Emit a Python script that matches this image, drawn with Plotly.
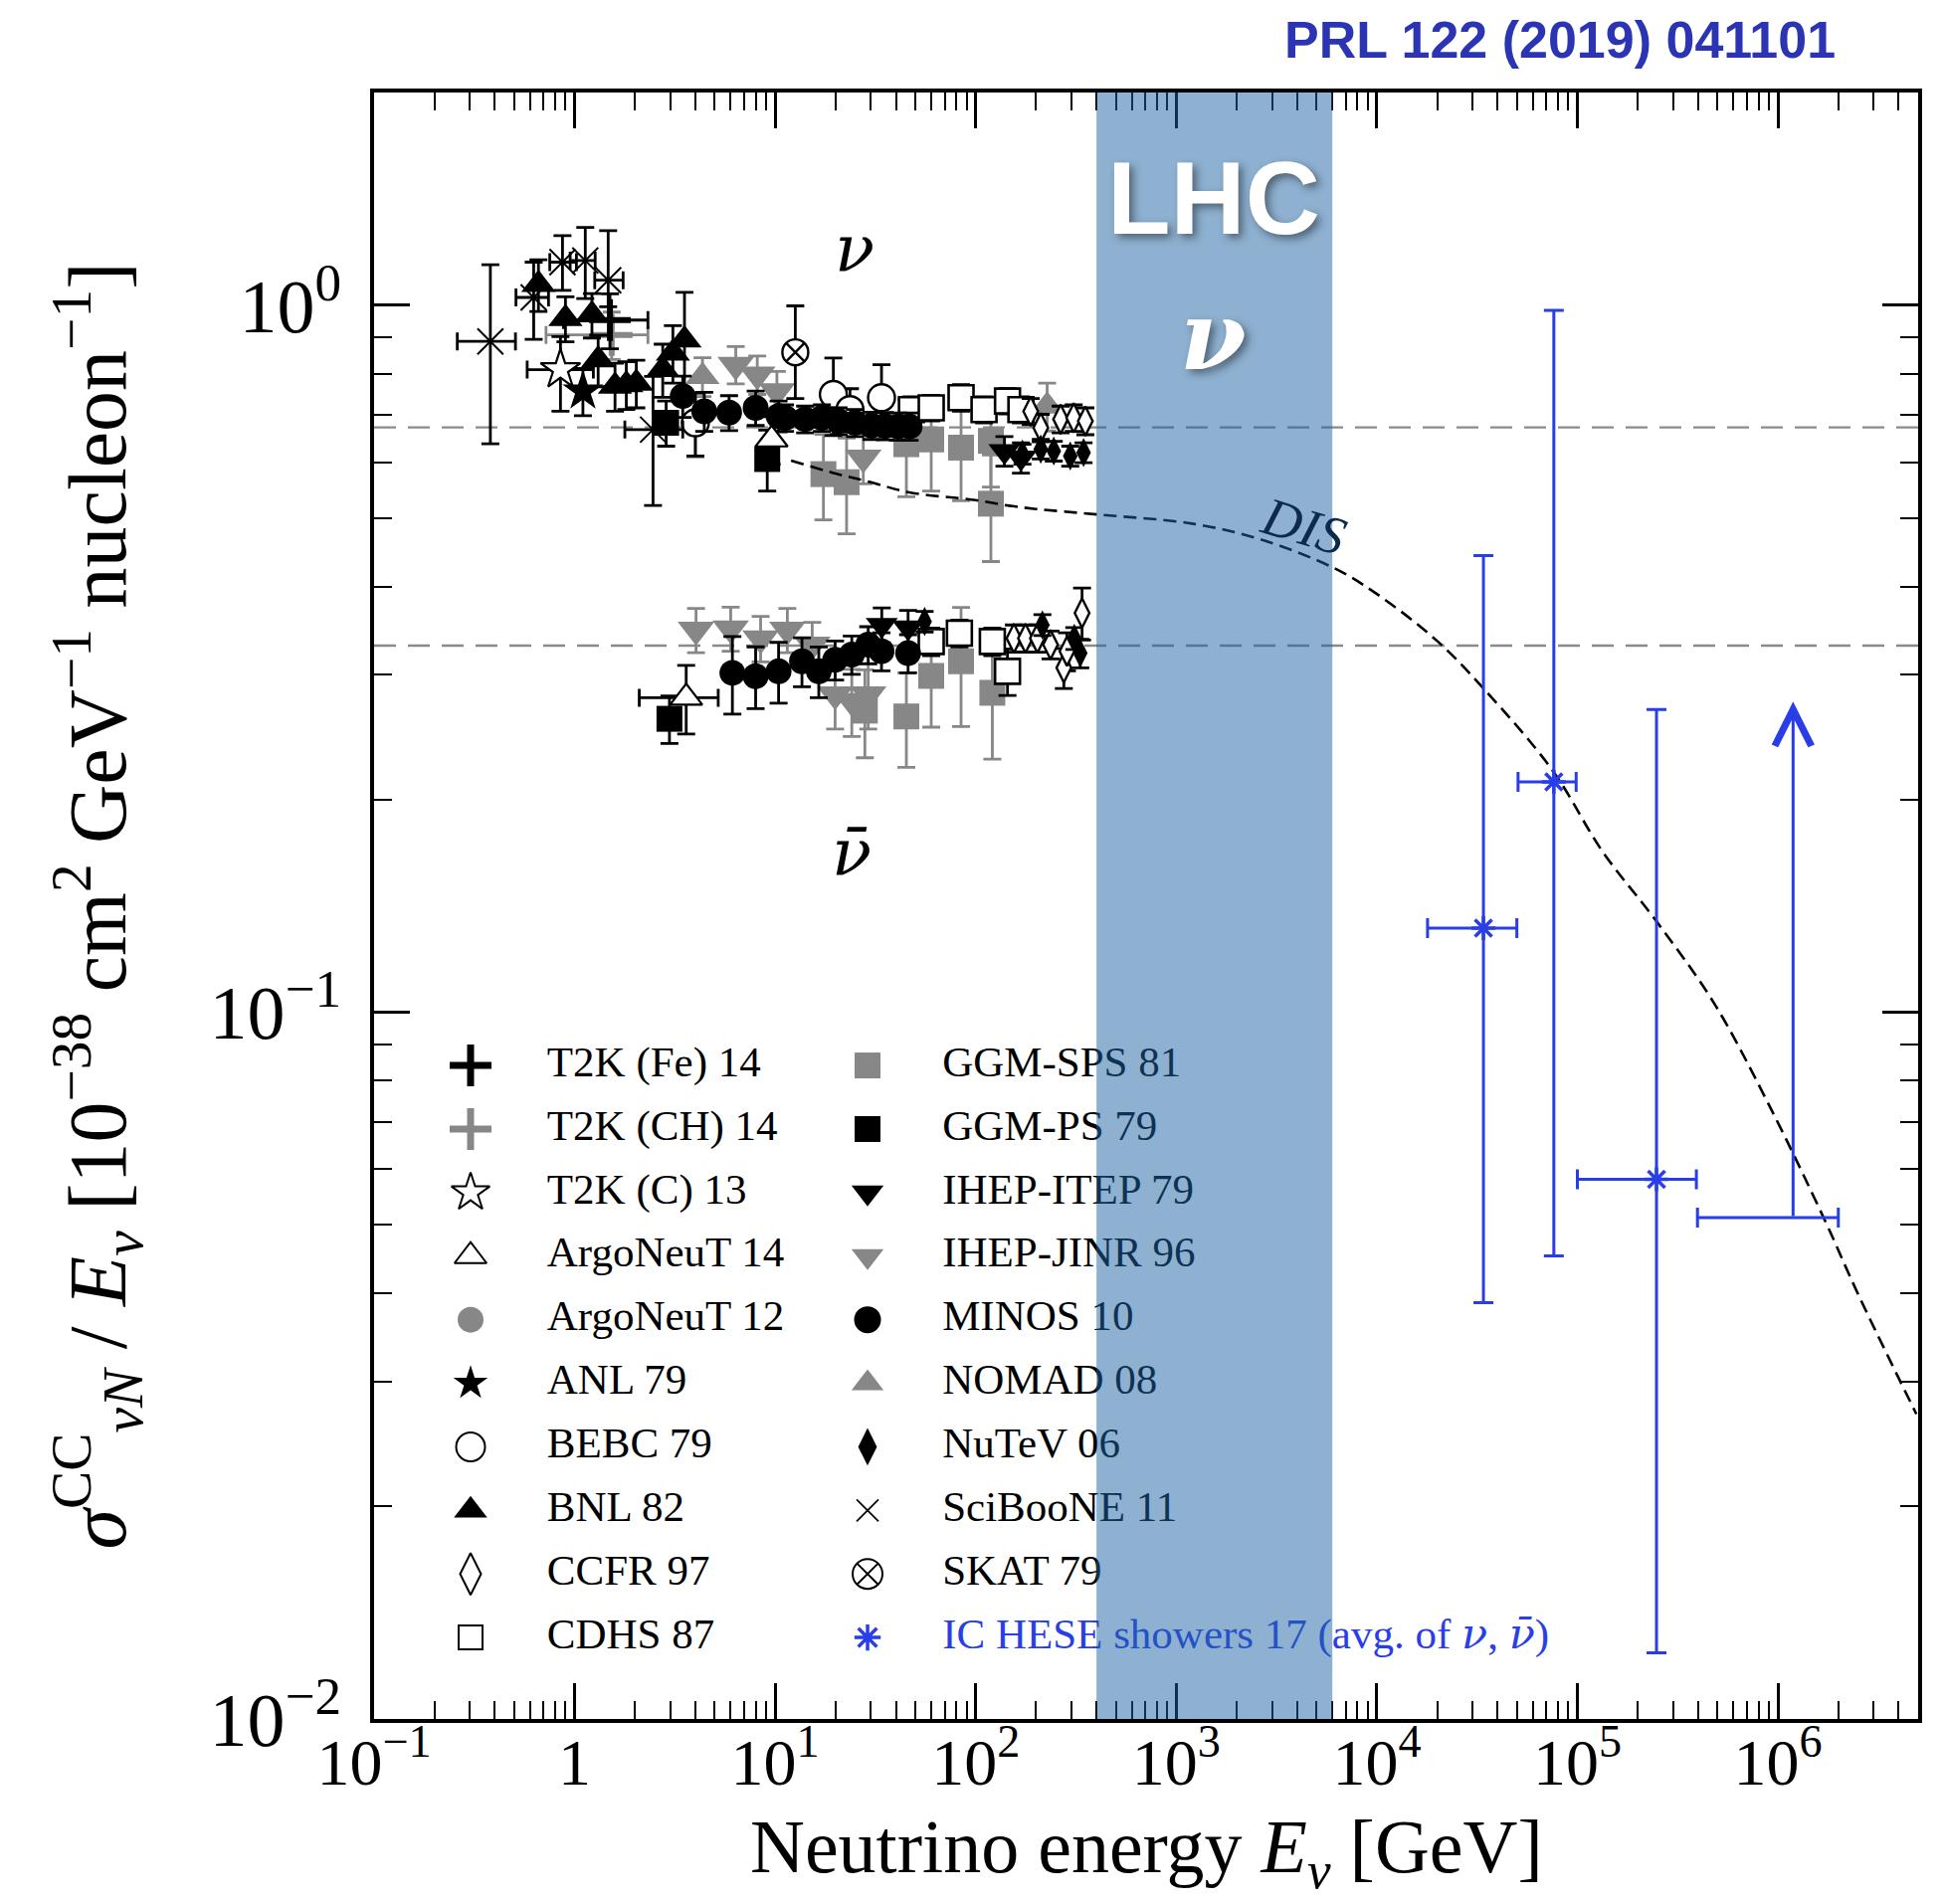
import numpy as np
import plotly.graph_objects as go

# ---------------- DATA ----------------
# Energies in GeV; y = sigma_CC / E in 1e-38 cm^2 GeV^-1 nucleon^-1
X_RANGE_GEV = [0.1, 5.0e6]
Y_RANGE = [0.01, 2.0]
X_TICK_VALS = [0.1, 1, 10, 100, 1e3, 1e4, 1e5, 1e6]
X_TICK_TEXT = ["10<sup>−1</sup>", "1", "10<sup>1</sup>", "10<sup>2</sup>", "10<sup>3</sup>",
               "10<sup>4</sup>", "10<sup>5</sup>", "10<sup>6</sup>"]
Y_TICK_VALS = [0.01, 0.1, 1.0]
Y_TICK_TEXT = ["10<sup>−2</sup>", "10<sup>−1</sup>", "10<sup>0</sup>"]

NU_LEVEL = 0.672
NUBAR_LEVEL = 0.330
LHC_BAND_GEV = [400, 6000]

DIS_E = [12, 20, 30, 46, 100, 144, 200, 400, 1200, 2600, 6100, 9800, 2.0e4, 3.4e4,
         7.5e4, 1.33e5, 2.5e5, 4.8e5, 9.0e5, 1.7e6, 2.5e6, 4.9e6]
DIS_S = [0.603, 0.578, 0.562, 0.544, 0.530, 0.521, 0.515, 0.506, 0.491, 0.467, 0.425, 0.392,
         0.335, 0.287, 0.220, 0.169, 0.134, 0.103, 0.074, 0.051, 0.040, 0.027]

# T2K (Fe) 14
T2K_FE_E = [1.50]
T2K_FE_S = [0.953]
T2K_FE_ERR = [0.085]
T2K_FE_XLO = [0.62]
T2K_FE_XHI = [0.82]
# T2K (CH) 14
T2K_CH_E = [1.53]
T2K_CH_S = [0.908]
T2K_CH_ERR = [0.07]
T2K_CH_XLO = [0.81]
T2K_CH_XHI = [0.79]
# T2K (C) 13
T2K_C_E = [0.85]
T2K_C_S = [0.811]
T2K_C_EU = [0.092]
T2K_C_ED = [0.103]
T2K_C_XLO = [0.27]
T2K_C_XHI = [0.39]
# ArgoNeuT 14 (nu, nubar)
ARGO14_NU_E = [9.6]
ARGO14_NU_S = [0.646]
ARGO14_NU_ERR = [0.05]
ARGO14_NB_E = [3.6]
ARGO14_NB_S = [0.2785]
ARGO14_NB_ERR = [0.031]
ARGO14_NB_XLO = [1.5]
ARGO14_NB_XHI = [1.6]
# ArgoNeuT 12
ARGO12_E = [4.0]
ARGO12_S = [0.68]
ARGO12_ERR = [0.07]
# ANL 79
ANL_E = [1.10]
ANL_S = [0.756]
ANL_ERR = [0.058]
# BEBC 79
BEBC_E = [4.0, 19.5, 23.6, 33.9]
BEBC_S = [0.682, 0.748, 0.712, 0.740]
BEBC_ERR = [0.07, 0.094, 0.05, 0.084]
# BNL 82
BNL_E = [0.66, 0.90, 1.22, 1.31, 1.59, 1.81, 2.03, 2.75, 3.09, 3.53]
BNL_S = [1.07, 0.958, 0.969, 0.837, 0.768, 0.772, 0.776, 0.811, 0.856, 0.893]
BNL_ERR = [0.09, 0.07, 0.07, 0.07, 0.06, 0.06, 0.06, 0.07, 0.08, 0.15]
# CCFR 97
CCFR_E = [188, 211, 265, 308, 352, 155, 177, 203, 236, 275, 285, 339]
CCFR_S = [0.708, 0.671, 0.690, 0.693, 0.686, 0.338, 0.338, 0.338, 0.331, 0.307, 0.324, 0.367]
CCFR_ERR = [0.03, 0.03, 0.03, 0.03, 0.03, 0.015, 0.015, 0.015, 0.015, 0.02, 0.02, 0.031]
# CDHS 87
CDHS_E = [47.8, 60, 84.5, 110, 144, 168, 60, 82.9, 121, 144]
CDHS_S = [0.712, 0.716, 0.740, 0.712, 0.732, 0.712, 0.3345, 0.3437, 0.3345, 0.3035]
CDHS_ERR = [0.03, 0.03, 0.032, 0.03, 0.03, 0.03, 0.015, 0.015, 0.015, 0.023]
# GGM-SPS 81
GGM_SPS_E = [17.4, 22.7, 45.1, 60, 84.5, 119, 119, 28, 45.1, 60, 84.5, 121]
GGM_SPS_S = [0.577, 0.562, 0.636, 0.646, 0.629, 0.524, 0.643, 0.267, 0.262, 0.299, 0.3136, 0.283]
GGM_SPS_ERR = [0.08, 0.087, 0.10, 0.10, 0.10, 0.09, 0.09, 0.038, 0.04, 0.046, 0.06, 0.055]
# GGM-PS 79
GGM_PS_E = [2.86, 9.13, 2.97]
GGM_PS_S = [0.682, 0.606, 0.260]
GGM_PS_ERR = [0.05, 0.06, 0.02]
# IHEP-ITEP 79
IHEP_ITEP_E = [139, 168, 34, 46]
IHEP_ITEP_S = [0.622, 0.609, 0.353, 0.350]
IHEP_ITEP_ERR = [0.03, 0.03, 0.02, 0.02]
# IHEP-JINR 96
IHEP_JINR_E = [6.36, 8.14, 10.2, 27.5, 4.03, 6.0, 8.46, 11.5, 15.3, 19.9, 24.1, 29.1]
IHEP_JINR_S = [0.824, 0.798, 0.756, 0.609, 0.3475, 0.349, 0.338, 0.3475, 0.331, 0.2815, 0.2755, 0.2815]
IHEP_JINR_ERR = [0.05, 0.05, 0.05, 0.05, 0.025, 0.025, 0.025, 0.025, 0.025, 0.03, 0.03, 0.03]
# MINOS 10
MINOS_E = [3.46, 4.43, 5.89, 7.99, 10.4, 11.2, 14.1, 17.1, 20.7, 25.0, 30.2, 35.2, 41.0, 46.8,
           6.12, 7.99, 10.4, 13.6, 16.5, 19.9, 24.1, 29.1, 33.9, 46.0]
MINOS_S = [0.744, 0.708, 0.705, 0.716, 0.697, 0.693, 0.690, 0.693, 0.686, 0.682, 0.676, 0.675, 0.674, 0.674,
           0.302, 0.2987, 0.3035, 0.3136, 0.3035, 0.315, 0.3205, 0.331, 0.324, 0.322]
MINOS_ERR = [0.05, 0.045, 0.04, 0.04, 0.035, 0.03, 0.03, 0.03, 0.03, 0.03, 0.03, 0.03, 0.03, 0.03,
             0.038, 0.03, 0.03, 0.025, 0.025, 0.02, 0.02, 0.02, 0.02, 0.02]
# NOMAD 08
NOMAD_E = [4.34, 227]
NOMAD_S = [0.793, 0.720]
NOMAD_ERR = [0.05, 0.056]
# NuTeV 06
NUTEV_E = [171, 211, 245, 296, 345, 55.6, 215, 310, 332]
NUTEV_S = [0.616, 0.626, 0.622, 0.612, 0.619, 0.357, 0.353, 0.338, 0.322]
NUTEV_ERR = [0.02, 0.02, 0.02, 0.02, 0.02, 0.012, 0.012, 0.012, 0.015]
# SciBooNE 11
SB_E = [0.38, 0.625, 0.87, 1.13, 1.47, 2.46]
SB_S = [0.889, 1.026, 1.151, 1.157, 1.085, 0.667]
SB_EU = [0.252, 0.125, 0.104, 0.132, 0.19, 0.126]
SB_ED = [0.252, 0.131, 0.101, 0.135, 0.09, 0.146]
SB_XLO = [0.12, 0.115, 0.118, 0.18, 0.21, 0.68]
SB_XHI = [0.127, 0.116, 0.151, 0.136, 0.275, 1.0]
# SKAT 79
SKAT_E = [12.6]
SKAT_S = [0.858]
SKAT_EU = [0.14]
SKAT_ED = [0.12]
# IceCube HESE showers 17
IC_E = [3.40e4, 7.63e4, 2.48e5]
IC_S = [0.1315, 0.2117, 0.0580]
IC_EU = [0.311, 0.772, 0.210]
IC_ED = [0.0927, 0.1665, 0.0456]
IC_XLO = [1.61e4, 2.57e4, 1.48e5]
IC_XHI = [1.59e4, 2.23e4, 1.44e5]
IC_LIM_E = [1.19e6]
IC_LIM_S = [0.0512]
IC_LIM_TOP = [0.275]
IC_LIM_XLO = [7.93e5]
IC_LIM_XHI = [8.1e5]

GREEK = "DejaVu Serif, Liberation Serif, serif"
NU_HTML = '<span style="font-family:DejaVu Serif"><i>ν</i></span>'
NUBAR_HTML = '<span style="font-family:DejaVu Serif"><i>ν\u0304</i></span>'
LEGEND_COL1 = ["T2K (Fe) 14", "T2K (CH) 14", "T2K (C) 13", "ArgoNeuT 14", "ArgoNeuT 12",
               "ANL 79", "BEBC 79", "BNL 82", "CCFR 97", "CDHS 87"]
LEGEND_COL2 = ["GGM-SPS 81", "GGM-PS 79", "IHEP-ITEP 79", "IHEP-JINR 96", "MINOS 10",
               "NOMAD 08", "NuTeV 06", "SciBooNE 11", "SKAT 79",
               "IC HESE showers 17 (avg. of " + NU_HTML + ", " + NUBAR_HTML + ")"]
X_TITLE = "Neutrino energy <i>E<sub>ν</sub></i> [GeV]"
Y_TITLE = ("<i>σ</i><sup>CC</sup><sub><i>νN</i></sub> / <i>E<sub>ν</sub></i> "
           "[10<sup>−38</sup> cm<sup>2</sup> GeV<sup>−1</sup> nucleon<sup>−1</sup>]")

# ---------------- STYLE ----------------
BLACK = "#000000"
GRAY = "#878787"
BLUE = "#2a3ee8"
WHITE = "#ffffff"
SERIF = "Liberation Serif, Times New Roman, serif"
SANS = "Liberation Sans, Arial, sans-serif"

# name: (symbol, fill, line colour, line width, data size, legend size, legend line width, error colour)
STYLES = {
    "T2K (Fe) 14": ("cross-thin-open", BLACK, BLACK, 6, 30, 30, 7, BLACK),
    "T2K (CH) 14": ("cross-thin-open", GRAY, GRAY, 6, 30, 30, 7, GRAY),
    "T2K (C) 13": ("star", WHITE, BLACK, 2.2, 30, 29, 2, BLACK),
    "ArgoNeuT 14": ("triangle-up", WHITE, BLACK, 2.2, 28, 28, 2, BLACK),
    "ArgoNeuT 12": ("circle", GRAY, GRAY, 0, 25, 26, 0, GRAY),
    "ANL 79": ("star", BLACK, BLACK, 0, 31, 26, 0, BLACK),
    "BEBC 79": ("circle", WHITE, BLACK, 2.4, 27, 29, 2, BLACK),
    "BNL 82": ("triangle-up", BLACK, BLACK, 0, 30, 29, 0, BLACK),
    "CCFR 97": ("diamond-tall", WHITE, BLACK, 2.4, 21, 30, 2, BLACK),
    "CDHS 87": ("square", WHITE, BLACK, 2.6, 25, 24, 2, BLACK),
    "GGM-SPS 81": ("square", GRAY, GRAY, 0, 26, 26, 0, GRAY),
    "GGM-PS 79": ("square", BLACK, BLACK, 0, 26, 26, 0, BLACK),
    "IHEP-ITEP 79": ("triangle-down", BLACK, BLACK, 0, 28, 28, 0, BLACK),
    "IHEP-JINR 96": ("triangle-down", GRAY, GRAY, 0, 32, 28, 0, GRAY),
    "MINOS 10": ("circle", BLACK, BLACK, 0, 26, 27, 0, BLACK),
    "NOMAD 08": ("triangle-up", GRAY, GRAY, 0, 30, 28, 0, GRAY),
    "NuTeV 06": ("diamond-tall", BLACK, BLACK, 0, 21, 27, 0, BLACK),
    "SciBooNE 11": ("x-thin-open", BLACK, BLACK, 2.0, 26, 22, 1.8, BLACK),
    "SKAT 79": ("circle-x", WHITE, BLACK, 2.4, 26, 30, 2, BLACK),
    "IC": ("asterisk-open", BLUE, BLUE, 3.5, 20, 22, 3.5, BLUE),
}

fig = go.Figure()


def add_set(name, E, S, eu, ed=None, xlo=None, xhi=None, marker_visible=True):
    sym, fill, lc, lw, size, _, _, ec = STYLES[name]
    tr = go.Scatter(
        x=E, y=S, mode="markers", showlegend=False, hoverinfo="skip",
        marker=dict(symbol=sym, size=size if marker_visible else 1,
                    color=fill if marker_visible else "rgba(0,0,0,0)",
                    line=dict(color=lc if marker_visible else "rgba(0,0,0,0)", width=lw)),
    )
    thick = 3 if ec == BLUE else 2.8
    cap = 10 if ec == BLUE else 9
    if eu is not None:
        tr.error_y = dict(type="data", symmetric=ed is None, array=eu,
                          arrayminus=ed if ed is not None else eu,
                          color=ec, thickness=thick, width=cap)
    if xlo is not None:
        tr.error_x = dict(type="data", symmetric=False, array=xhi, arrayminus=xlo,
                          color=ec, thickness=thick, width=cap)
    fig.add_trace(tr)


# order: grey sets first, then black ones on top
add_set("GGM-SPS 81", GGM_SPS_E, GGM_SPS_S, GGM_SPS_ERR)
add_set("IHEP-JINR 96", IHEP_JINR_E, IHEP_JINR_S, IHEP_JINR_ERR)
add_set("NOMAD 08", NOMAD_E, NOMAD_S, NOMAD_ERR)
add_set("ArgoNeuT 12", ARGO12_E, ARGO12_S, ARGO12_ERR)
add_set("T2K (CH) 14", T2K_CH_E, T2K_CH_S, T2K_CH_ERR, None, T2K_CH_XLO, T2K_CH_XHI)
add_set("CDHS 87", CDHS_E, CDHS_S, CDHS_ERR)
add_set("CCFR 97", CCFR_E, CCFR_S, CCFR_ERR)
add_set("BEBC 79", BEBC_E, BEBC_S, BEBC_ERR)
add_set("NuTeV 06", NUTEV_E, NUTEV_S, NUTEV_ERR)
add_set("IHEP-ITEP 79", IHEP_ITEP_E, IHEP_ITEP_S, IHEP_ITEP_ERR)
add_set("MINOS 10", MINOS_E, MINOS_S, MINOS_ERR)
add_set("GGM-PS 79", GGM_PS_E, GGM_PS_S, GGM_PS_ERR)
add_set("BNL 82", BNL_E, BNL_S, BNL_ERR)
add_set("ANL 79", ANL_E, ANL_S, ANL_ERR)
add_set("T2K (C) 13", T2K_C_E, T2K_C_S, T2K_C_EU, T2K_C_ED, T2K_C_XLO, T2K_C_XHI)
add_set("T2K (Fe) 14", T2K_FE_E, T2K_FE_S, T2K_FE_ERR, None, T2K_FE_XLO, T2K_FE_XHI)
add_set("ArgoNeuT 14", ARGO14_NU_E, ARGO14_NU_S, ARGO14_NU_ERR)
add_set("ArgoNeuT 14", ARGO14_NB_E, ARGO14_NB_S, ARGO14_NB_ERR, None, ARGO14_NB_XLO, ARGO14_NB_XHI)
add_set("SciBooNE 11", SB_E, SB_S, SB_EU, SB_ED, SB_XLO, SB_XHI)
add_set("SKAT 79", SKAT_E, SKAT_S, SKAT_EU, SKAT_ED)

# DIS curve
fig.add_trace(go.Scatter(x=DIS_E, y=DIS_S, mode="lines",
                         line=dict(color=BLACK, width=2.6, dash="13px,7px", shape="spline"),
                         showlegend=False, hoverinfo="skip"))

# IceCube
add_set("IC", IC_E, IC_S, IC_EU, IC_ED, IC_XLO, IC_XHI)
add_set("IC", IC_LIM_E, IC_LIM_S, None, None, IC_LIM_XLO, IC_LIM_XHI, marker_visible=False)
fig.add_annotation(x=np.log10(IC_LIM_E[0]), y=np.log10(IC_LIM_TOP[0]), xref="x", yref="y",
                   ax=np.log10(IC_LIM_E[0]), ay=np.log10(IC_LIM_S[0]), axref="x", ayref="y",
                   text="", showarrow=True, arrowhead=5, arrowsize=2.4, arrowwidth=3, arrowcolor=BLUE)

# horizontal reference levels
for lvl in (NU_LEVEL, NUBAR_LEVEL):
    fig.add_shape(type="line", xref="paper", yref="y", x0=0, x1=1, y0=lvl, y1=lvl,
                  line=dict(color="#8a8a8a", width=2.3, dash="22px,12px"), layer="below")

# ---------------- manual legend (overlay axes in plot-fraction units) ----------------
LEG_ROW0, LEG_STEP = 0.4018, 0.03908
LEG_SYM_X = [0.0625, 0.3196]
LEG_TXT_X = [0.1120, 0.3680]
for col, labels in enumerate([LEGEND_COL1, LEGEND_COL2]):
    ys = [LEG_ROW0 - i * LEG_STEP for i in range(len(labels))]
    for i, lab in enumerate(labels):
        key = "IC" if lab.startswith("IC HESE") else lab
        sym, fill, lc, lw, _, lsize, llw, _ = STYLES[key]
        fig.add_trace(go.Scatter(x=[LEG_SYM_X[col]], y=[ys[i]], xaxis="x2", yaxis="y2", mode="markers",
                                 marker=dict(symbol=sym, size=lsize, color=fill, line=dict(color=lc, width=llw)),
                                 showlegend=False, hoverinfo="skip"))
    fig.add_trace(go.Scatter(x=[LEG_TXT_X[col]] * len(labels), y=ys, xaxis="x2", yaxis="y2", mode="text",
                             text=labels, textposition="middle right",
                             textfont=dict(family=SERIF, size=43,
                                           color=[BLUE if l.startswith("IC HESE") else BLACK for l in labels]),
                             showlegend=False, hoverinfo="skip"))

# LHC band (drawn above everything in the plot area)
fig.add_shape(type="rect", xref="x", yref="paper", x0=LHC_BAND_GEV[0], x1=LHC_BAND_GEV[1], y0=0, y1=1,
              fillcolor="rgba(30,100,164,0.5)", line=dict(width=0), layer="above")

# text labels
fig.add_annotation(x=np.log10(1531), y=np.log10(1.42), xref="x", yref="y", text="LHC", showarrow=False,
                   font=dict(family=SANS, size=104, color=WHITE, weight="bold",
                             shadow="4px 4px 8px rgba(0,0,0,0.45)"))
fig.add_annotation(x=np.log10(1531), y=np.log10(0.905), xref="x", yref="y", text="<b><i>ν</i></b>",
                   showarrow=False,
                   font=dict(family=GREEK, size=96, color=WHITE, shadow="4px 4px 8px rgba(0,0,0,0.45)"))
fig.add_annotation(x=np.log10(24.8), y=np.log10(1.2), xref="x", yref="y", text="<i>ν</i>", showarrow=False,
                   font=dict(family=GREEK, size=66, color=BLACK))
fig.add_annotation(x=np.log10(24.0), y=np.log10(0.168), xref="x", yref="y", text="<i>ν\u0304</i>",
                   showarrow=False, font=dict(family=GREEK, size=66, color=BLACK))
fig.add_annotation(x=np.log10(4300), y=np.log10(0.487), xref="x", yref="y", text="<i>DIS</i>", showarrow=False,
                   textangle=17, font=dict(family=SERIF, size=54, color="#0d2a4d"))
fig.add_annotation(x=0.948, y=1.0324, xref="paper", yref="paper", xanchor="right", yanchor="middle",
                   text="<b>PRL 122 (2019) 041101</b>", showarrow=False,
                   font=dict(family=SANS, size=52, color="#2b35b4"))
# x-axis title, placed at the bottom edge below the tick labels (as in the reference)
fig.add_annotation(x=0.5, y=-0.1123, xref="paper", yref="paper", xanchor="center", yanchor="bottom",
                   text=X_TITLE, showarrow=False, font=dict(family=SERIF, size=76, color=BLACK))

x_minor = [m * 10.0 ** k for k in range(-1, 7) for m in range(2, 10) if m * 10.0 ** k <= X_RANGE_GEV[1]]
y_minor = [m * 10.0 ** k for k in range(-2, 1) for m in range(2, 10) if m * 10.0 ** k <= Y_RANGE[1]]

# page body has an 8px default margin: shrink the figure by that amount so the plot area
# lands at the same place as in the reference
fig.update_layout(
    width=1945, height=1906,
    margin=dict(l=368, r=25, t=85, b=186),
    paper_bgcolor="white", plot_bgcolor="white",
    showlegend=False,
    font=dict(family=SERIF, color=BLACK),
    xaxis=dict(type="log", range=[np.log10(X_RANGE_GEV[0]), np.log10(X_RANGE_GEV[1])],
               tickmode="array", tickvals=X_TICK_VALS, ticktext=X_TICK_TEXT,
               ticks="inside", ticklen=36, tickwidth=3, tickcolor=BLACK,
               minor=dict(tickmode="array", tickvals=x_minor, ticks="inside", ticklen=18, tickwidth=2,
                          tickcolor=BLACK, showgrid=False),
               showline=True, linewidth=3.5, linecolor=BLACK, mirror="ticks",
               showgrid=False, zeroline=False,
               tickfont=dict(family=SERIF, size=66, color=BLACK), ticklabelstandoff=-17,
               automargin=False),
    yaxis=dict(type="log", range=[np.log10(Y_RANGE[0]), np.log10(Y_RANGE[1])],
               tickmode="array", tickvals=Y_TICK_VALS, ticktext=Y_TICK_TEXT,
               ticks="inside", ticklen=36, tickwidth=3, tickcolor=BLACK,
               minor=dict(tickmode="array", tickvals=y_minor, ticks="inside", ticklen=18, tickwidth=2,
                          tickcolor=BLACK, showgrid=False),
               showline=True, linewidth=3.5, linecolor=BLACK, mirror="ticks",
               showgrid=False, zeroline=False,
               tickfont=dict(family=SERIF, size=76, color=BLACK), ticklabelstandoff=14,
               title=dict(text=Y_TITLE, standoff=58, font=dict(family=SERIF, size=82, color=BLACK)),
               automargin=False),
    xaxis2=dict(overlaying="x", range=[0, 1], visible=False, fixedrange=True),
    yaxis2=dict(overlaying="y", range=[0, 1], visible=False, fixedrange=True),
)

fig.write_html("out.html")
